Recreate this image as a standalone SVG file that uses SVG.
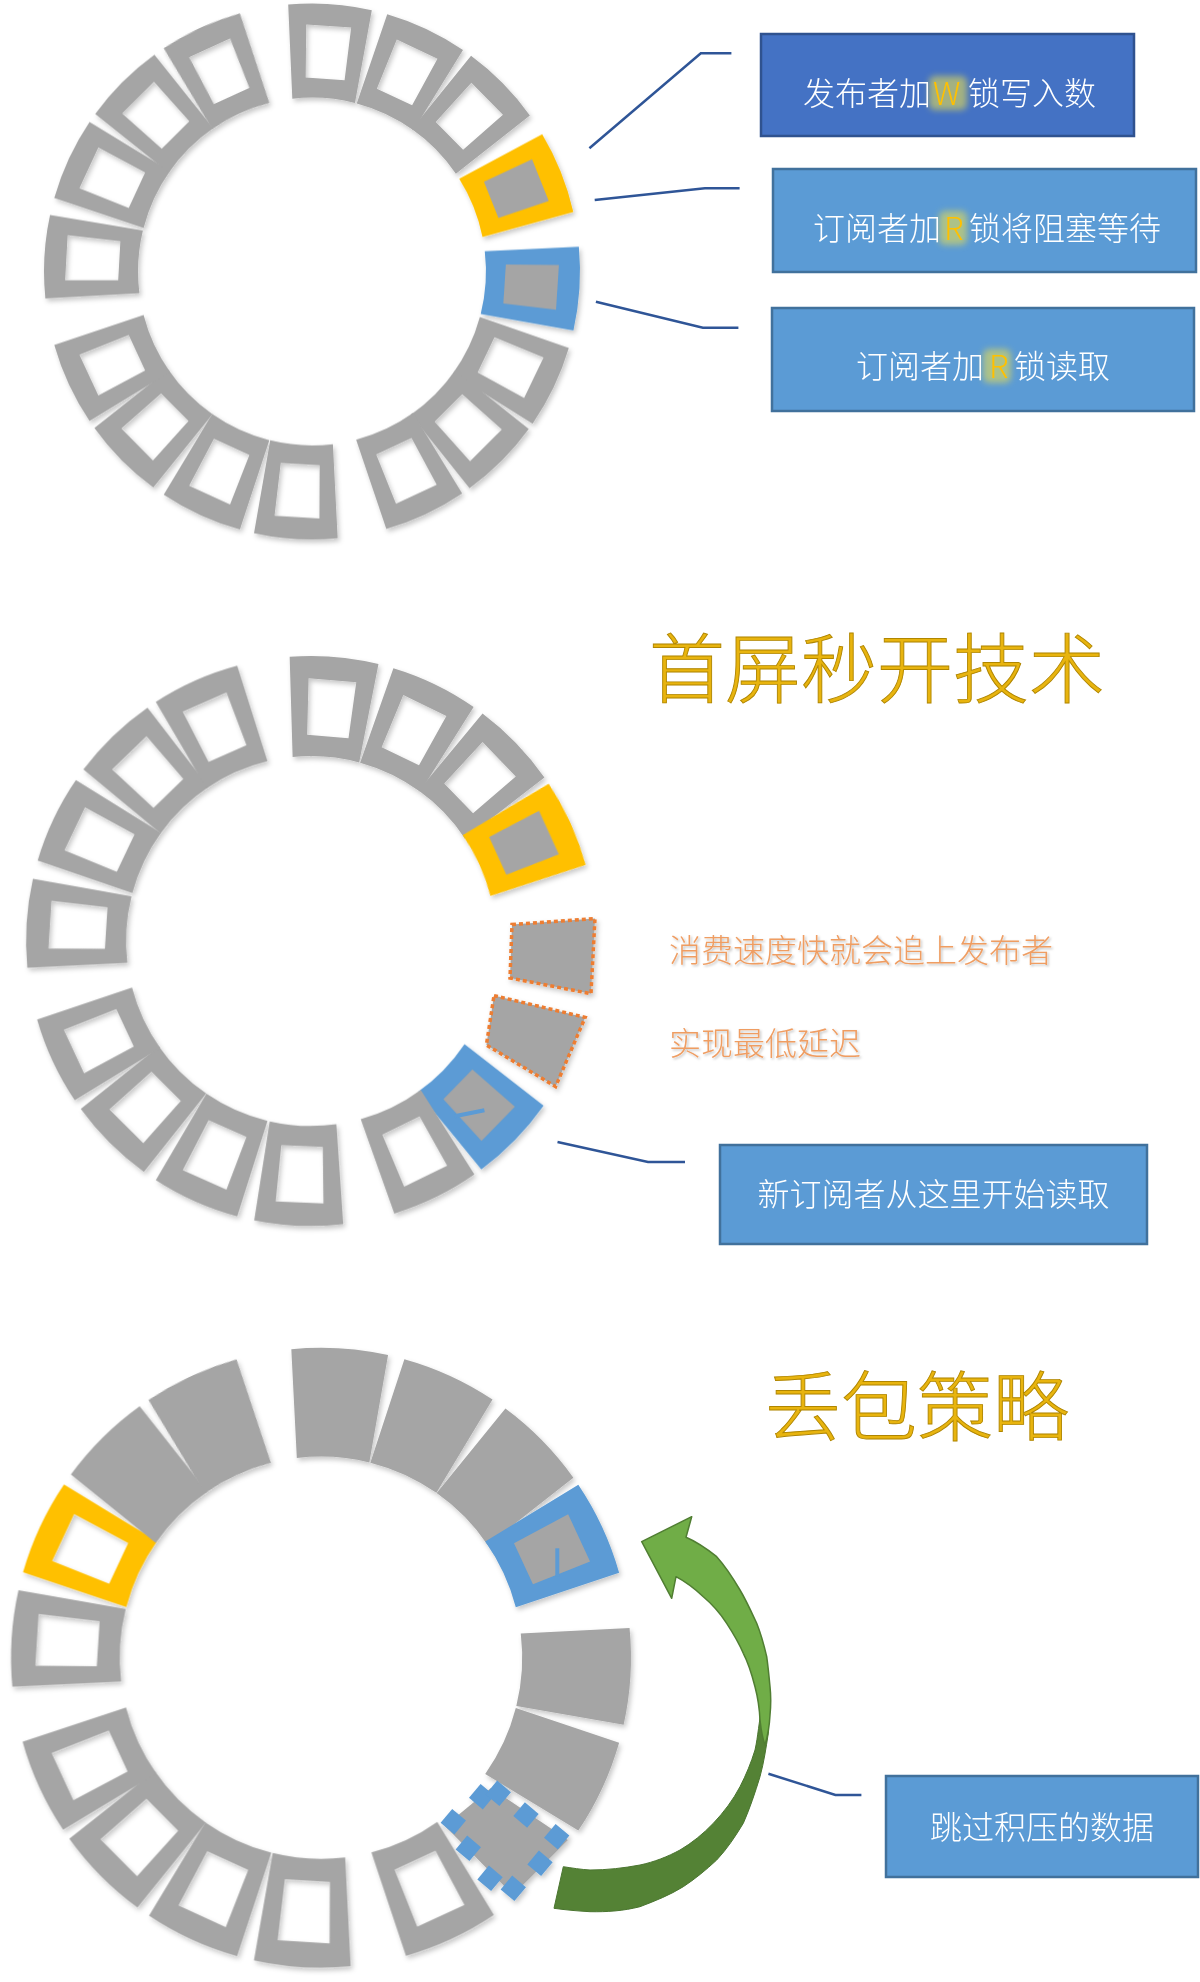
<svg xmlns="http://www.w3.org/2000/svg" width="1200" height="1982" viewBox="0 0 1200 1982">
<style>
.g{fill:#A5A5A5}
.y{fill:#FFC000}
.b{fill:#5B9BD5}
.box1{fill:#4472C4;stroke:#2F528F;stroke-width:2.5}
.box{fill:#5B9BD5;stroke:#41719C;stroke-width:2.5}
.bt{font-family:'Noto Sans CJK SC','Noto Sans',sans-serif;font-size:32px;fill:#FFFFFF;font-weight:300}
.hl{fill:#FFC000}
.glow{fill:#E4DC55;opacity:0.6}
.conn{fill:none;stroke:#2F5597;stroke-width:2.5}
.title{font-family:'Noto Sans CJK SC',sans-serif;font-size:76px;font-weight:300;fill:#E8B40E;stroke:#B08600;stroke-width:0.9}
.or{font-family:'Noto Sans CJK SC',sans-serif;font-size:32px;font-weight:300;fill:#EF9D62}
.tick{stroke:#5B9BD5;stroke-width:4;fill:none}
.odot{fill:#A5A5A5;stroke:#ED7D31;stroke-width:3.5;stroke-dasharray:4 3}
.sq{fill:#5B9BD5}
</style>
<defs>
<filter id="sh" x="-20%" y="-20%" width="140%" height="140%">
<feDropShadow dx="2" dy="3" stdDeviation="2.5" flood-color="#000" flood-opacity="0.22"/>
</filter>
<filter id="blur" x="-50%" y="-50%" width="200%" height="200%">
<feGaussianBlur stdDeviation="3"/>
</filter>
<filter id="tsh" x="-5%" y="-20%" width="110%" height="150%">
<feDropShadow dx="1.5" dy="1.5" stdDeviation="1.2" flood-color="#000" flood-opacity="0.25"/>
</filter>
<path id="seg" fill-rule="evenodd" d="M -41.9,-264.7 A 268 268 0 0 1 41.9,-264.7 L 31.4,-171.1 A 174 174 0 0 0 -31.4,-171.1 Z M -22.5,-246 L 22.5,-246 L 19.5,-193 L -19.5,-193 Z"/>
<path id="full" d="M -41.9,-264.7 A 268 268 0 0 1 41.9,-264.7 L 31.4,-171.1 A 174 174 0 0 0 -31.4,-171.1 Z"/>
<path id="hole" d="M -22.5,-246 L 22.5,-246 L 19.5,-193 L -19.5,-193 Z"/>
<rect id="sqd" x="-9" y="-9" width="18" height="18"/>
</defs>
<rect width="1200" height="1982" fill="#FFFFFF"/>

<!-- Ring 1 -->
<g id="ring1" filter="url(#sh)">
<g transform="translate(312 271.5)">
<use id="r1s0" href="#seg" class="g" transform="rotate(3.9)"/>
<use id="r1s1" href="#seg" class="g" transform="rotate(25.3)"/>
<use id="r1s2" href="#seg" class="g" transform="rotate(45.4)"/>
<g id="r1s3" transform="rotate(68.2)"><use href="#full" class="y"/><use href="#hole" class="g"/></g>
<g id="r1s4" transform="rotate(93.7)"><use href="#full" class="b"/><use href="#hole" class="g"/></g>
<use id="r1s5" href="#seg" class="g" transform="rotate(115.6)"/>
<use id="r1s6" href="#seg" class="g" transform="rotate(135)"/>
<use id="r1s7" href="#seg" class="g" transform="rotate(154.9)"/>
<use id="r1s8" href="#seg" class="g" transform="rotate(183.5)"/>
<use id="r1s9" href="#seg" class="g" transform="rotate(204.6)"/>
<use id="r1s10" href="#seg" class="g" transform="rotate(225.3)"/>
<use id="r1s11" href="#seg" class="g" transform="rotate(245.1)"/>
<use id="r1s12" href="#seg" class="g" transform="rotate(273.2)"/>
<use id="r1s13" href="#seg" class="g" transform="rotate(294.9)"/>
<use id="r1s14" href="#seg" class="g" transform="rotate(315)"/>
<use id="r1s15" href="#seg" class="g" transform="rotate(335.4)"/>
</g>
</g>

<!-- Ring 2 -->
<g id="ring2" filter="url(#sh)">
<g transform="translate(311 941) scale(1.0634)">
<use id="r2s0" href="#seg" class="g" transform="rotate(4.7)"/>
<use id="r2s1" href="#seg" class="g" transform="rotate(25.8)"/>
<use id="r2s2" href="#seg" class="g" transform="rotate(46)"/>
<g id="r2s3" transform="rotate(65.5)"><use href="#full" class="y"/><use href="#hole" class="g"/></g>
<g id="r2s6" transform="rotate(134.3)"><use href="#full" class="b"/><use href="#hole" class="g"/></g>
<use id="r2s7" href="#seg" class="g" transform="rotate(154)"/>
<use id="r2s8" href="#seg" class="g" transform="rotate(182.5)"/>
<use id="r2s9" href="#seg" class="g" transform="rotate(204)"/>
<use id="r2s10" href="#seg" class="g" transform="rotate(224.9)"/>
<use id="r2s11" href="#seg" class="g" transform="rotate(245)"/>
<use id="r2s12" href="#seg" class="g" transform="rotate(273.6)"/>
<use id="r2s13" href="#seg" class="g" transform="rotate(295.4)"/>
<use id="r2s14" href="#seg" class="g" transform="rotate(316)"/>
<use id="r2s15" href="#seg" class="g" transform="rotate(336)"/>
</g>
<polygon id="r2s4" class="odot" points="512,924.5 595,918.5 591,993.7 510,978"/>
<polygon id="r2s5" class="odot" points="494,995.6 585.2,1017.4 555.6,1086.6 486.4,1045"/>
<line class="tick" x1="454.7" y1="1116.2" x2="484.4" y2="1110.3"/>
</g>

<!-- Ring 3 -->
<g id="ring3" filter="url(#sh)">
<g transform="translate(321 1657.7) scale(1.1567)">
<use id="r3s0" href="#full" class="g" transform="rotate(3.5)"/>
<use id="r3s1" href="#full" class="g" transform="rotate(24.6)"/>
<use id="r3s2" href="#full" class="g" transform="rotate(45.5)"/>
<g id="r3s3" transform="rotate(65.1)"><use href="#full" class="b"/><use href="#hole" class="g"/></g>
<use id="r3s4" href="#full" class="g" transform="rotate(93.5)"/>
<use id="r3s5" href="#full" class="g" transform="rotate(114.9)"/>
<use id="r3s7" href="#seg" class="g" transform="rotate(155.1)"/>
<use id="r3s8" href="#seg" class="g" transform="rotate(183.5)"/>
<use id="r3s9" href="#seg" class="g" transform="rotate(204.7)"/>
<use id="r3s10" href="#seg" class="g" transform="rotate(225.3)"/>
<use id="r3s11" href="#seg" class="g" transform="rotate(245.3)"/>
<use id="r3s12" href="#seg" class="g" transform="rotate(273.6)"/>
<use id="r3s13" href="#seg" class="y" transform="rotate(295)"/>
<use id="r3s14" href="#full" class="g" transform="rotate(315.2)"/>
<use id="r3s15" href="#full" class="g" transform="rotate(335.2)"/>
</g>
<g id="r3s6">
<polygon class="g" points="445,1826 491,1788 568,1840 513,1895"/>
<use href="#sqd" class="sq" transform="translate(481.7 1796.7) rotate(40)"/>
<use href="#sqd" class="sq" transform="translate(498.3 1793.3) rotate(40)"/>
<use href="#sqd" class="sq" transform="translate(526 1815) rotate(40)"/>
<use href="#sqd" class="sq" transform="translate(556.7 1836.7) rotate(40)"/>
<use href="#sqd" class="sq" transform="translate(540 1863.3) rotate(40)"/>
<use href="#sqd" class="sq" transform="translate(513.3 1888.3) rotate(40)"/>
<use href="#sqd" class="sq" transform="translate(490 1878.3) rotate(40)"/>
<use href="#sqd" class="sq" transform="translate(468.3 1848.3) rotate(40)"/>
<use href="#sqd" class="sq" transform="translate(453.3 1821.7) rotate(40)"/>
</g>
<line class="tick" x1="557.3" y1="1548.3" x2="557.3" y2="1576.7"/>
</g>

<!-- Green curved arrow -->
<g id="arrow">
<path fill="#548235" stroke="#4A7530" stroke-width="1" d="M 762,1708 C 766,1712 769,1722 768.3,1733.3 C 766,1748 764,1762 760,1776.7 C 755,1793 750,1808 743.3,1823.3 C 735,1837 727,1849 716.7,1860 C 706,1870 695,1879 683.3,1886.7 C 670,1895 655,1901 640,1906.7 C 623,1911 607,1912 590,1911.7 C 578,1911 566,1910 554,1908.3 L 563.3,1866.7 C 572,1868 581,1869.5 590,1870 C 607,1870 624,1868 640,1865 C 654,1862 667,1857 680,1850 C 692,1843 703,1834 713.3,1823.3 C 724,1812 733,1800 740,1786.7 C 746,1775 751,1763 755,1750 C 758,1737 759,1720 762,1708 Z"/>
<path fill="#70AD47" stroke="#507E32" stroke-width="1.5" stroke-linejoin="round" d="M 686,1537.3 L 691.7,1516.7 L 641.7,1541.7 L 671.7,1598.3 L 676,1576.7 C 686,1582 695,1589 703.3,1596.7 C 712,1604 720,1613 726.7,1623.3 C 733,1633 739,1643 743.3,1653.3 C 749,1664 752,1675 755,1686.7 C 758,1698 759.5,1709 760,1720 C 761,1729 762,1737 765,1745 C 768,1735 769.5,1725 770,1715 C 771,1705 771,1696 770,1686.7 C 769,1676 768,1666 766.7,1656.7 C 764,1645 761,1634 756.7,1623.3 C 751,1611 746,1600 740,1590 C 733,1578 725,1566 716.7,1556.7 C 707,1549 697,1542 686,1537.3 Z"/>
</g>

<!-- Connectors -->
<g id="connectors">
<polyline class="conn" points="589.4,148.3 700.8,53.3 731.4,53.3"/>
<polyline class="conn" points="594.7,200 704.9,188.3 739.6,188.3"/>
<polyline class="conn" points="595.9,301.7 702.9,327.7 738.4,327.7"/>
<polyline class="conn" points="557.5,1142 648,1162 685,1162"/>
<polyline class="conn" points="768.4,1773.8 835.4,1794.9 861.4,1794.9"/>
</g>

<!-- Boxes -->
<g id="box1">
<rect class="box1" x="761" y="34" width="373" height="102"/>
<rect class="glow" x="929" y="76" width="38" height="34" rx="6" filter="url(#blur)"/>
<text class="bt" y="105"><tspan x="803">发布者加</tspan><tspan class="hl" x="933">W</tspan><tspan x="968">锁写入数</tspan></text>
</g>
<g id="box2">
<rect class="box" x="773" y="169" width="423" height="103"/>
<rect class="glow" x="939" y="211" width="28" height="34" rx="6" filter="url(#blur)"/>
<text class="bt" y="240"><tspan x="813">订阅者加</tspan><tspan class="hl" x="944">R</tspan><tspan x="969">锁将阻塞等待</tspan></text>
</g>
<g id="box3">
<rect class="box" x="772" y="308" width="422" height="103"/>
<rect class="glow" x="983" y="349" width="28" height="34" rx="6" filter="url(#blur)"/>
<text class="bt" y="378"><tspan x="856">订阅者加</tspan><tspan class="hl" x="989">R</tspan><tspan x="1014">锁读取</tspan></text>
</g>

<g id="title1">
<text class="title" x="649" y="697">首屏秒开技术</text>
</g>
<g id="note1" filter="url(#tsh)">
<text class="or" x="669" y="962">消费速度快就会追上发布者</text>
</g>
<g id="note2" filter="url(#tsh)">
<text class="or" x="669" y="1055">实现最低延迟</text>
</g>
<g id="box4">
<rect class="box" x="720" y="1145" width="427" height="99"/>
<text class="bt" x="933.5" y="1206" text-anchor="middle">新订阅者从这里开始读取</text>
</g>

<g id="title2">
<text class="title" x="765" y="1435">丢包策略</text>
</g>
<g id="box5">
<rect class="box" x="886" y="1776" width="312" height="101"/>
<text class="bt" x="1042" y="1839" text-anchor="middle">跳过积压的数据</text>
</g>
</svg>
